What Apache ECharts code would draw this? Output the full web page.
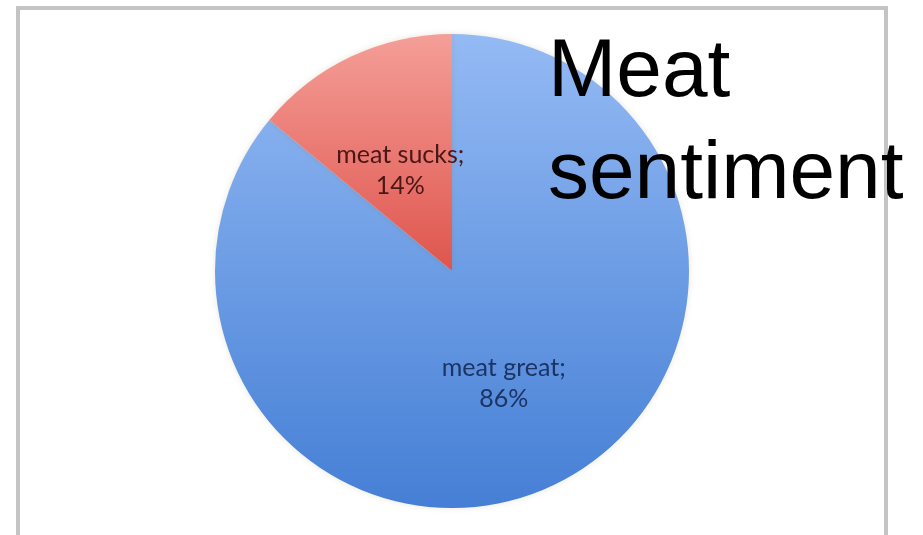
<!DOCTYPE html>
<html>
<head>
<meta charset="utf-8">
<script src="https://cdn.jsdelivr.net/npm/echarts@6/dist/echarts.min.js"></script>
<style>
html,body{margin:0;padding:0;background:#fff;}
#main{width:923px;height:535px;}
</style>
</head>
<body>
<div id="main"></div>
<script>
var titleText = 'Meat\nsentiment';
var categories = ['meat great', 'meat sucks'];
var values = [86, 14];

var styles = [
  { top: '#94baf4', bottom: '#457fd5', label: '#1b3464', offset: [0, 3] },
  { top: '#f59e98', bottom: '#de554d', label: '#4a1616', offset: [0, 9] }
];

var chart = echarts.init(document.getElementById('main'));
var data = categories.map(function (c, i) {
  return {
    name: c,
    value: values[i],
    itemStyle: {
      color: new echarts.graphic.LinearGradient(0, 0, 0, 1, [
        { offset: 0, color: styles[i].top },
        { offset: 1, color: styles[i].bottom }
      ])
    },
    label: { color: styles[i].label, offset: styles[i].offset }
  };
});

chart.setOption({
  backgroundColor: '#ffffff',
  animation: false,
  title: {
    text: titleText,
    left: 543,
    top: 17,
    textStyle: {
      fontFamily: 'Liberation Sans, Arial, sans-serif',
      fontSize: 82,
      fontWeight: 'normal',
      color: '#000000',
      lineHeight: 102
    },
    z: 10
  },
  graphic: [
    {
      type: 'rect',
      shape: { x: 18, y: 8, width: 868, height: 540 },
      style: { fill: 'none', stroke: '#c4c4c4', lineWidth: 4 },
      z: -1
    }
  ],
  series: [{
    type: 'pie',
    center: [452, 271],
    radius: 237,
    startAngle: 90,
    clockwise: true,
    data: data,
    label: {
      show: true,
      position: 'inside',
      formatter: '{b};\n{d}%',
      fontFamily: 'Lato, sans-serif',
      fontSize: 25,
      lineHeight: 31
    },
    labelLine: { show: false },
    itemStyle: {
      borderWidth: 0,
      shadowBlur: 6,
      shadowColor: 'rgba(120,110,60,0.18)'
    },
    emphasis: { disabled: true }
  }]
});
</script>
</body>
</html>
